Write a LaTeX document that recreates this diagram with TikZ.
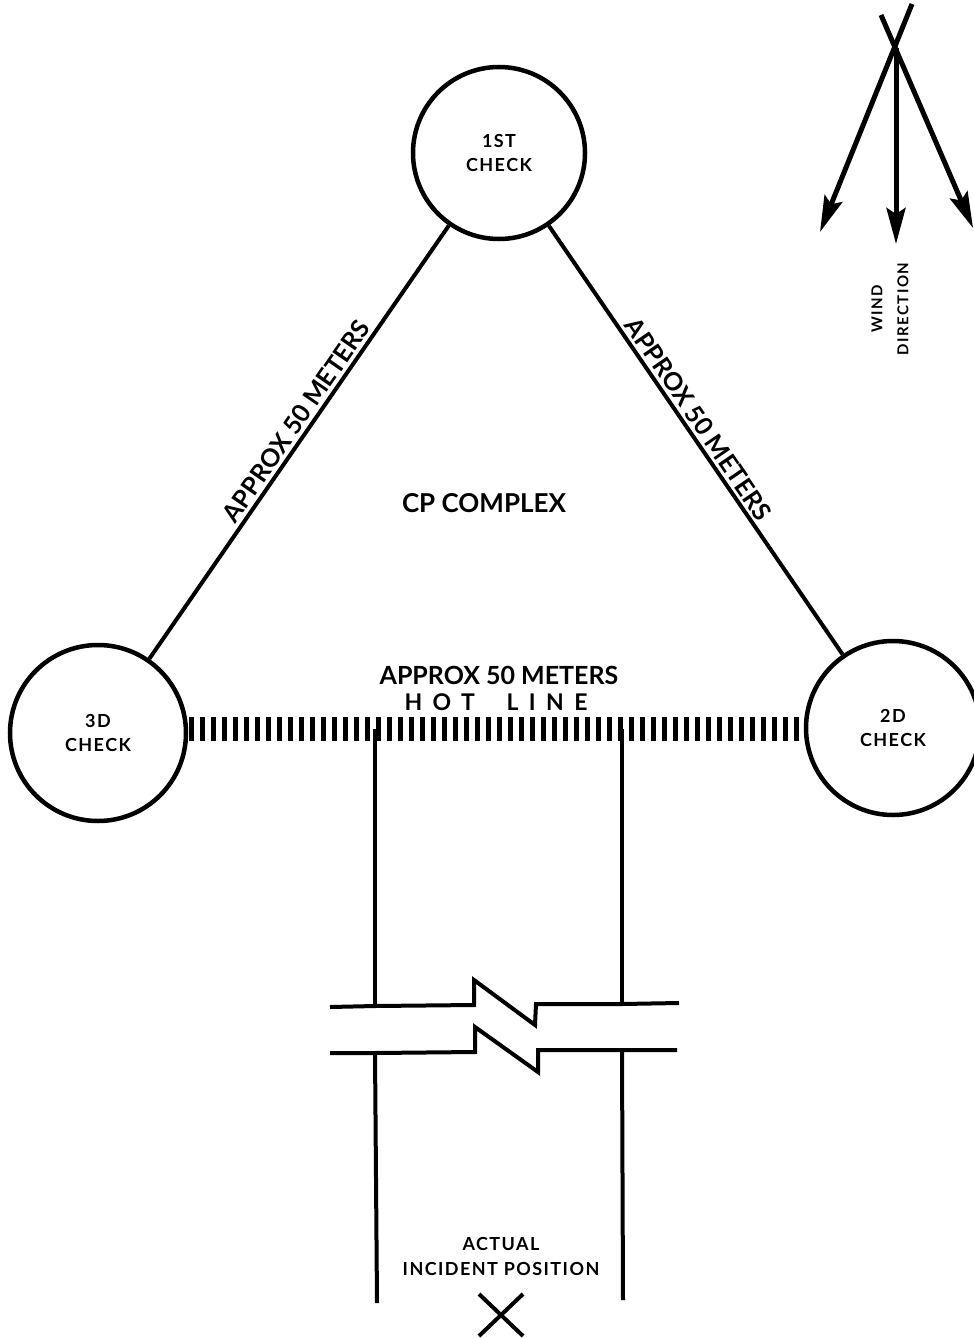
\documentclass[tikz,border=0pt]{standalone}
\usepackage{fontspec}
\setmainfont{Lato}
\usetikzlibrary{arrows.meta}

\begin{document}
\begin{tikzpicture}[x=1pt,y=-1pt,
      check/.style={draw,circle,line width=4.5pt,inner sep=0pt,align=center,font=\fontsize{18}{24}\selectfont\bfseries\addfontfeature{LetterSpace=8}},
      leg/.style  ={line width=4pt},
      lbl/.style  ={font=\fontsize{25}{28}\selectfont\bfseries,inner sep=3pt},
      note/.style ={align=center,font=\fontsize{18}{25}\selectfont\bfseries\addfontfeature{LetterSpace=8}},
      rail/.style ={line width=4pt},
      wind/.style ={line width=5pt,-{Stealth[length=36pt,width=19pt,inset=6pt]}}]
      \useasboundingbox (0,0) rectangle (974,1338);

      % Check points
      \node[check,minimum size=172pt] (c1) at (499,153) {1ST\\CHECK};
      \node[check,minimum size=176pt] (c3) at (98,733) {3D\\CHECK};
      \node[check,minimum size=174pt] (c2) at (893,728) {2D\\CHECK};

      % Sides of the triangle
      \draw[leg] (c3) -- node[lbl,sloped,above,pos=0.53] {APPROX 50 METERS} (c1);
      \draw[leg] (c1) -- node[lbl,sloped,above,pos=0.47] {APPROX 50 METERS} (c2);
      \node[lbl,font=\fontsize{26}{28}\selectfont\bfseries] (cp) at (484,503) {CP COMPLEX};

      % Hot line
      \coordinate (hotL) at (189,729);
      \coordinate (hotR) at (806,729);
      \draw[line width=24pt,dash pattern=on 5pt off 6pt] (hotL) -- (hotR);
      \node[lbl] (dist) at (499,675) {APPROX 50 METERS};
      \node[font=\fontsize{23}{26}\selectfont\bfseries\addfontfeature{LetterSpace=45}] (hot) at (496,702) {HOT\ \ LINE};

      % Lane to the incident
      \coordinate (l1) at (375,729);  \coordinate (r1) at (622,729);
      \coordinate (l2) at (375,1006); \coordinate (r2) at (622,1004);
      \coordinate (l3) at (375,1053); \coordinate (r3) at (622,1050);
      \coordinate (l4) at (377,1303); \coordinate (r4) at (623,1300);
      \draw[rail] (l1) -- (l2);
      \draw[rail] (r1) -- (r2);
      \draw[rail] (l3) -- (l4);
      \draw[rail] (r3) -- (r4);

      % Break symbol
      \draw[rail,line join=miter] (330,1007) -- (l2) -- (474,1005) -- (474,980) -- (535,1025) -- (536,1004) -- (r2) -- (679,1003);
      \draw[rail,line join=miter] (330,1053) -- (l3) -- (475,1052) -- (475,1027) -- (538,1072) -- (538,1050) -- (r3) -- (677,1050);

      % Incident position
      \node[note] (inc) at (501,1256) {ACTUAL\\INCIDENT POSITION};
      \coordinate (x) at (501,1315);
      \draw[line width=4pt] (x) +(-22,-21) -- +(22,21);
      \draw[line width=4pt] (x) +(22,-21) -- +(-22,21);

      % Wind direction
      \coordinate (w1) at (912,4);   \coordinate (t1) at (820,232);
      \coordinate (w2) at (896,48);  \coordinate (t2) at (896,244);
      \coordinate (w3) at (881,15);  \coordinate (t3) at (973,228);
      \draw[wind] (w1) -- (t1);
      \draw[wind] (w2) -- (t2);
      \draw[wind] (w3) -- (t3);
      \node[note,rotate=90,font=\fontsize{15}{26}\selectfont\bfseries\addfontfeature{LetterSpace=10}] (wd) at (890,309) {WIND\\DIRECTION};
\end{tikzpicture}
\end{document}
